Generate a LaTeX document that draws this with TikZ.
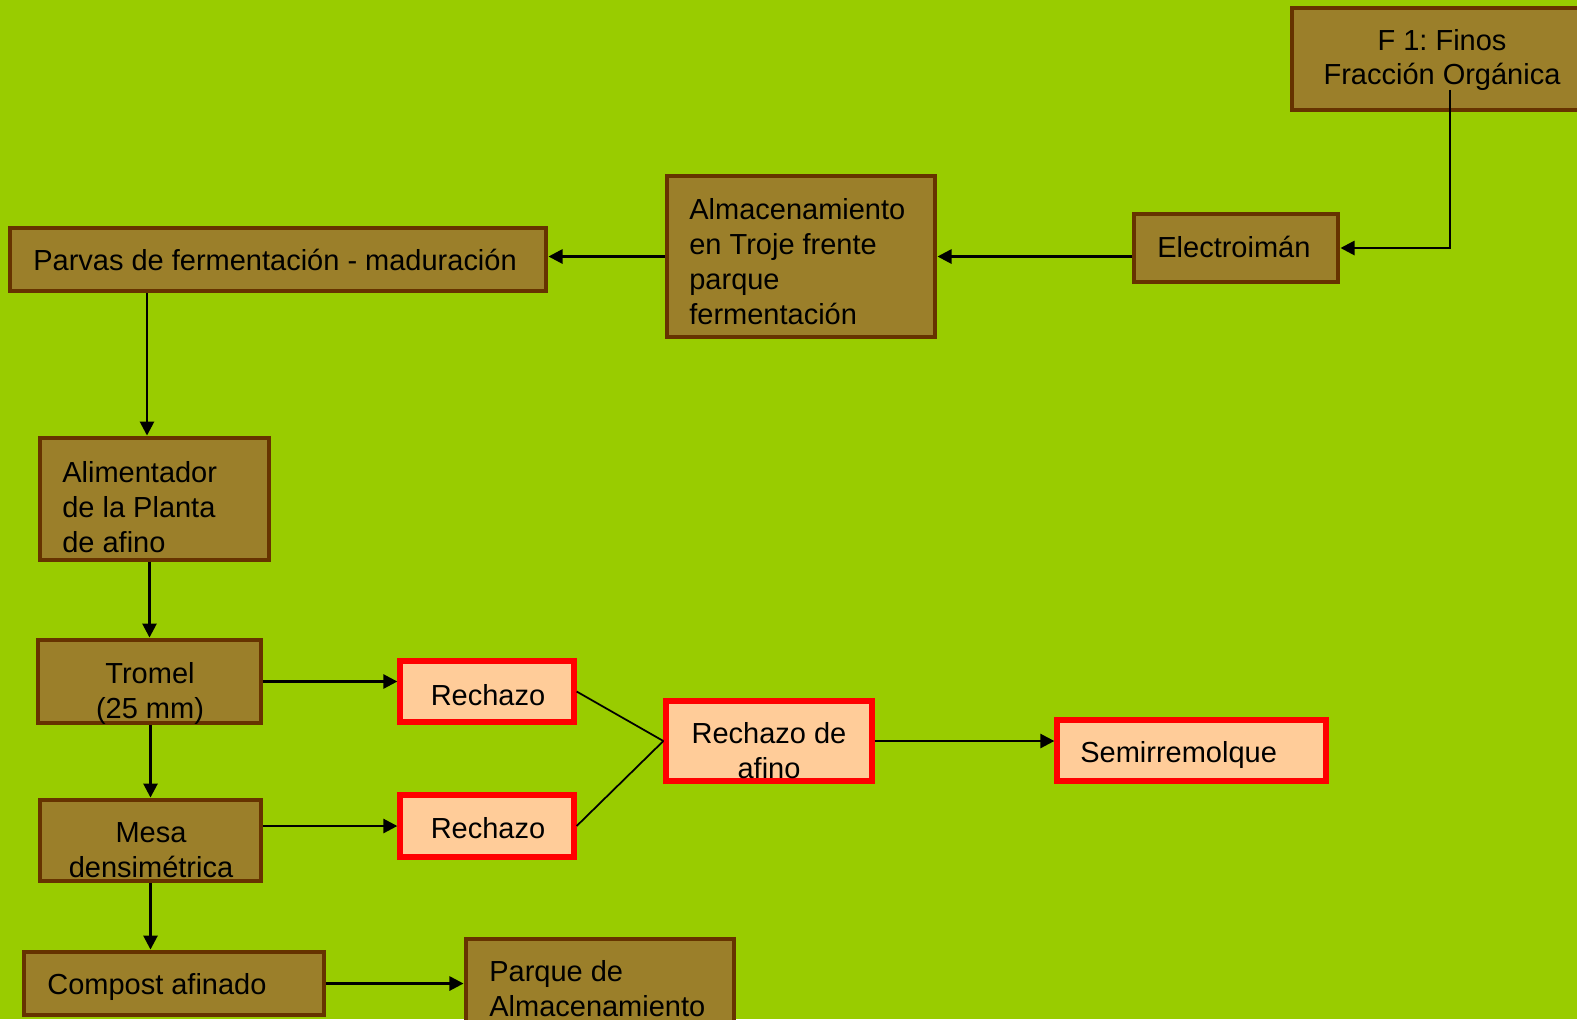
\documentclass[tikz,border=0pt]{standalone}
\usepackage{fontspec}
\setmainfont{Liberation Sans}
\usetikzlibrary{fit,arrows.meta}
\definecolor{verde}{RGB}{153,204,0}
\definecolor{ocre}{RGB}{155,127,42}
\definecolor{marron}{RGB}{102,51,0}
\definecolor{salmon}{RGB}{255,204,153}
\frenchspacing

\begin{document}
\begin{tikzpicture}[x=0.02cm,y=-0.02cm]
\tikzstyle{caja}=[draw=marron,fill=ocre,line width=2.8pt,inner sep=0pt]
\tikzstyle{rechazo}=[draw=red,fill=salmon,line width=3pt,inner sep=0pt]
\tikzstyle{texto}=[font=\fontsize{16.5}{19.9}\selectfont,inner sep=0pt,align=left]
\tikzstyle{flecha}=[line width=1.5pt,-{Triangle[length=8pt,width=8pt]}]
\tikzstyle{linea}=[line width=1pt]
\useasboundingbox (0,0) rectangle (1577,1019);
\fill[verde] (0,0) rectangle (1577,1019);
% cajas
\node[caja,fit={(1292,8) (1592,110)}] (f1) {};
\node[caja,fit={(1134,214) (1338,282)}] (electro) {};
\node[caja,fit={(667,176) (935,337)}] (almac) {};
\node[caja,fit={(10,228) (546,291)}] (parvas) {};
\node[caja,fit={(40,438) (269,560)}] (alim) {};
\node[caja,fit={(38,640) (261,723)}] (tromel) {};
\node[caja,fit={(40,800) (261,881)}] (mesa) {};
\node[caja,fit={(24,952) (324,1015)}] (compost) {};
\node[caja,fit={(466,939) (734,1035)}] (parque) {};
\node[rechazo,fit={(400,661) (574,722)}] (rech1) {};
\node[rechazo,fit={(400,795) (574,857)}] (rech2) {};
\node[rechazo,fit={(666,701) (872,781)}] (rafino) {};
\node[rechazo,fit={(1057,720) (1326,781)}] (semi) {};
% flechas
\draw[flecha] ([xshift=0.16cm,yshift=0.45cm]f1.south) |- (electro.east);
\draw[flecha] (electro.west |- almac.east) -- (almac.east);
\draw[flecha] (almac.west) -- (almac.west -| parvas.east);
\draw[flecha] ([xshift=-0.15cm]alim.north |- parvas.south) -- ([xshift=-0.15cm]alim.north);
\draw[flecha] (alim.south -| tromel.north) -- (tromel.north);
\draw[flecha] (tromel.south -| mesa.north) -- (mesa.north);
\draw[flecha] (mesa.south) -- (mesa.south |- compost.north);
\draw[flecha] (tromel.east) -- (tromel.east -| rech1.west);
\draw[flecha] (mesa.east |- rech2.west) -- (rech2.west);
\draw[linea] (rech1.east) -- (rafino.west);
\draw[linea] (rech2.east) -- (rafino.west);
\draw[flecha] (rafino.east) -- (rafino.east -| semi.west);
\draw[flecha] (compost.east) -- (compost.east -| parque.west);
% textos
\node[texto,align=center] (tf1) at (1442,60) {F 1: Finos\\Fracción Orgánica};
\node[texto,anchor=west] (telectro) at (1157,247) {Electroimán};
\node[texto,anchor=west] (talmac) at (689,262) {Almacenamiento\\en Troje frente\\parque\\fermentación};
\node[texto,anchor=west] (tparvas) at (33,260) {Parvas de fermentación - maduración};
\node[texto,anchor=west] (talim) at (62,507) {Alimentador\\de la Planta\\de afino};
\node[texto,align=center] (ttromel) at (150,693) {Tromel\\(25 mm)};
\node[texto,align=center] (tmesa) at (151,850) {Mesa\\densimétrica};
\node[texto] (trech1) at (488,695) {Rechazo};
\node[texto] (trech2) at (488,828) {Rechazo};
\node[texto,align=center] (trafino) at (769,751) {Rechazo de\\afino};
\node[texto,anchor=west] (tsemi) at (1080,755) {Semirremolque};
\node[texto,anchor=west] (tcompost) at (47,987) {Compost afinado};
\node[texto,anchor=west] (tparque) at (489,989) {Parque de\\Almacenamiento};
\end{tikzpicture}
\end{document}
